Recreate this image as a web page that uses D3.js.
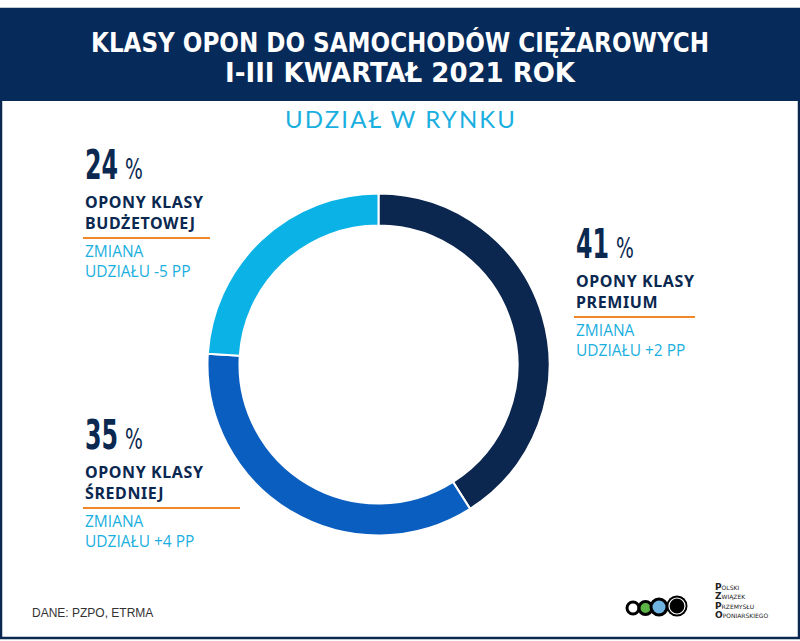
<!DOCTYPE html>
<html>
<head>
<meta charset="utf-8">
<script src="https://cdn.jsdelivr.net/npm/d3@7"></script>
<style>
  html, body { margin: 0; padding: 0; background: #fff; }
  svg { display: block; }
</style>
</head>
<body>
<svg id="chart"></svg>
<script>
// data
var categories = ["OPONY KLASY PREMIUM", "OPONY KLASY ŚREDNIEJ", "OPONY KLASY BUDŻETOWEJ"];
var shares = [41, 35, 24];
var changes = ["+2 PP", "+4 PP", "-5 PP"];
var labelLines = [["OPONY KLASY", "PREMIUM"], ["OPONY KLASY", "ŚREDNIEJ"], ["OPONY KLASY", "BUDŻETOWEJ"]];
var titleLines = ["KLASY OPON DO SAMOCHODÓW CIĘŻAROWYCH", "I-III KWARTAŁ 2021 ROK"];
var subtitle = "UDZIAŁ W RYNKU";
var source = "DANE: PZPO, ETRMA";

var width = 800, height = 641;
var navy = "#0a2850";
var colors = ["#0b2750", "#0a5ec0", "#0bb2e6"];
var lightText = "#1aafe0";
var orange = "#f0882a";
var condensed = "'Liberation Sans Narrow', 'DejaVu Sans Condensed', sans-serif";

var svg = d3.select("#chart")
    .attr("width", width)
    .attr("height", height);

// frame + header
svg.append("rect")
    .attr("x", 1).attr("y", 9)
    .attr("width", width - 2).attr("height", 629)
    .attr("fill", "#fff")
    .attr("stroke", navy)
    .attr("stroke-width", 2.5);

svg.append("rect")
    .attr("x", 0).attr("y", 8)
    .attr("width", width).attr("height", 93)
    .attr("fill", "#062a5a");

svg.selectAll(".title")
    .data(titleLines)
    .enter()
    .append("text")
    .attr("class", "title")
    .attr("x", 400)
    .attr("y", function(d, i) { return 52 + i * 30; })
    .attr("text-anchor", "middle")
    .attr("fill", "#fff")
    .attr("font-family", condensed)
    .attr("font-weight", "bold")
    .attr("font-size", 27)
    .attr("textLength", function(d, i) { return i == 0 ? 618 : 350; })
    .attr("lengthAdjust", "spacingAndGlyphs")
    .text(function(d) { return d; });

svg.append("text")
    .attr("x", 400)
    .attr("y", 128)
    .attr("text-anchor", "middle")
    .attr("fill", lightText)
    .attr("font-family", "Lato, 'Open Sans', sans-serif")
    .attr("font-size", 24)
    .attr("textLength", 230)
    .attr("lengthAdjust", "spacing")
    .text(subtitle);

// donut
var cx = 378.5, cy = 364.5, outerR = 171, innerR = 139;

var pie = d3.pie().sort(null).value(function(d) { return d; });
var arc = d3.arc().innerRadius(innerR).outerRadius(outerR);

svg.append("g")
    .attr("transform", "translate(" + cx + "," + cy + ")")
    .selectAll("path")
    .data(pie(shares))
    .enter()
    .append("path")
    .attr("d", arc)
    .attr("fill", function(d, i) { return colors[i]; })
    .attr("stroke", "#fff")
    .attr("stroke-width", 2);

// labels: [x, y of number baseline, orange line length]
var labelPos = [[576, 258, 119], [85, 449, 155], [85, 179, 125]];

var fmt = d3.format("d");
labelPos.forEach(function(p, i) {
    var g = svg.append("g").attr("transform", "translate(" + p[0] + "," + p[1] + ")");

    // big number, squeezed to a condensed look
    var num = g.append("text")
        .attr("transform", "scale(0.66,1)")
        .attr("fill", navy)
        .attr("font-family", condensed)
        .attr("font-weight", "bold")
        .attr("font-size", 40)
        .text(fmt(shares[i]));
    var w = num.node().getComputedTextLength() * 0.66;

    g.append("text")
        .attr("transform", "translate(" + (w + 7) + ",0) scale(0.72,1)")
        .attr("fill", navy)
        .attr("font-family", condensed)
        .attr("font-size", 29)
        .text("%");

    g.selectAll(".lbl")
        .data(labelLines[i])
        .enter()
        .append("text")
        .attr("x", 0)
        .attr("y", function(d, j) { return 29 + j * 21; })
        .attr("fill", navy)
        .attr("font-family", "'Noto Sans', 'Open Sans', sans-serif")
        .attr("font-weight", "bold")
        .attr("font-size", 16)
        .attr("letter-spacing", 0.6)
        .text(function(d) { return d; });

    g.append("line")
        .attr("x1", -2).attr("x2", p[2])
        .attr("y1", 59).attr("y2", 59)
        .attr("stroke", orange)
        .attr("stroke-width", 2);

    g.selectAll(".chg")
        .data(["ZMIANA", "UDZIAŁU " + changes[i]])
        .enter()
        .append("text")
        .attr("x", 0)
        .attr("y", function(d, j) { return 78 + j * 20; })
        .attr("fill", lightText)
        .attr("font-family", "'Open Sans', sans-serif")
        .attr("font-size", 15.5)
        .text(function(d) { return d; });
});

// source
svg.append("text")
    .attr("x", 32).attr("y", 617)
    .attr("fill", "#333")
    .attr("font-family", "'Liberation Sans', Arial, sans-serif")
    .attr("font-size", 12)
    .text(source);

// logo
var logo = svg.append("g");
logo.append("circle").attr("cx", 633).attr("cy", 608).attr("r", 6).attr("fill", "#fff").attr("stroke", "#000").attr("stroke-width", 3);
logo.append("circle").attr("cx", 645.5).attr("cy", 608).attr("r", 6.5).attr("fill", "#5cb446").attr("stroke", "#000").attr("stroke-width", 3);
logo.append("circle").attr("cx", 659).attr("cy", 607).attr("r", 8).attr("fill", "#6fb3e3").attr("stroke", "#000").attr("stroke-width", 3);
logo.append("circle").attr("cx", 677).attr("cy", 606).attr("r", 10.5).attr("fill", "#000");
logo.append("circle").attr("cx", 677).attr("cy", 606).attr("r", 8).attr("fill", "none").attr("stroke", "#fff").attr("stroke-width", 1.2);

var logoWords = ["POLSKI", "ZWIĄZEK", "PRZEMYSŁU", "OPONIARSKIEGO"];
logoWords.forEach(function(w, i) {
    var t = logo.append("text")
        .attr("x", 715).attr("y", 590 + i * 9.3)
        .attr("fill", "#222")
        .attr("font-family", "'DejaVu Sans', sans-serif");
    t.append("tspan").attr("font-size", 9).attr("font-weight", "bold").text(w[0]);
    t.append("tspan").attr("font-size", 6).text(w.slice(1));
});
</script>
</body>
</html>
